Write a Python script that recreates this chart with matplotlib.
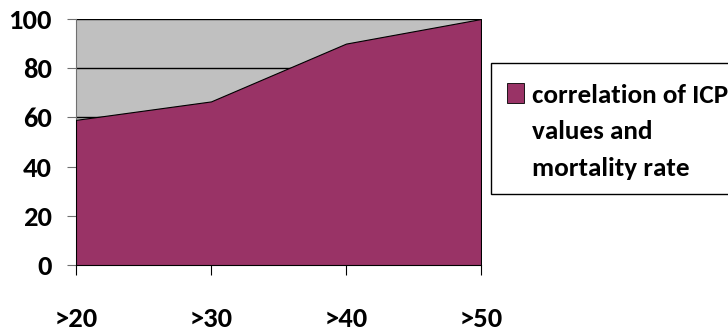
import numpy as np
import matplotlib.pyplot as plt
from matplotlib.patches import Rectangle

categories = ['>20', '>30', '>40', '>50']
values = [59, 66.5, 90, 100]
series_label = 'correlation of ICP\nvalues and\nmortality rate'
yticks = [0, 20, 40, 60, 80, 100]
fill_color = '#993366'

plt.rcParams['font.family'] = ['Carlito', 'DejaVu Sans']
plt.rcParams['font.weight'] = 'bold'

W, H = 728, 333
fig = plt.figure(figsize=(W / 100, H / 100), dpi=100)
ax = fig.add_axes([76 / W, 68 / H, 405 / W, 246 / H])


def px(x, y):
    # pixel position (from top-left) -> figure fraction
    return x / W, 1 - y / H


x = np.arange(len(categories))
ax.set_facecolor('#C0C0C0')
ax.fill_between(x, 0, values, color=fill_color, edgecolor='black', linewidth=0.8, zorder=3)

ax.set_xlim(0, len(categories) - 1)
ax.set_ylim(0, 100)
ax.set_yticks(yticks)
ax.set_xticks(x)
ax.set_xticklabels(categories)
for t in yticks[1:]:
    ax.axhline(t, color='black', linewidth=1, zorder=2)

for side in ['top', 'right']:
    ax.spines[side].set_visible(False)
ax.spines['left'].set_color('#707070')
ax.spines['bottom'].set_color('black')
ax.tick_params(axis='y', direction='out', length=6.5, color='#707070', labelsize=20.5, pad=11)
ax.tick_params(axis='x', direction='out', length=7, color='black', labelsize=20.5, pad=23)

# legend box
x0, y0 = px(491, 194)
x1, y1 = px(760, 63)
fig.patches.append(Rectangle((x0, y0), x1 - x0, y1 - y0, transform=fig.transFigure,
                             facecolor='white', edgecolor='black', linewidth=1))
sx, sy = px(507, 103)
fig.patches.append(Rectangle((sx, sy), 17 / W, 20 / H, transform=fig.transFigure,
                             facecolor=fill_color, edgecolor='black', linewidth=0.6))
for i, line in enumerate(series_label.split('\n')):
    lx, ly = px(532, 103 + 36.5 * i)
    fig.text(lx, ly, line, fontsize=19.5, va='baseline', ha='left')

fig.savefig('out.png', dpi=100)
